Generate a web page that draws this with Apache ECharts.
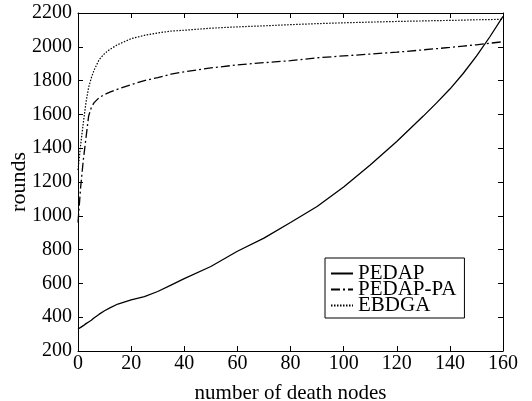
<!DOCTYPE html>
<html lang="en">
<head>
    <meta charset="UTF-8">
    <title>rounds vs death nodes</title>
    <script src="https://cdn.jsdelivr.net/npm/echarts@6/dist/echarts.min.js"></script>
    <style>
        body{ margin:0; background:#fff; }
    </style>
</head>
<body>
    <div id="main" style="width:532px;height:401px;"></div>
    <script>
        // number of death nodes
        var nodes = [0, 1, 2, 3, 4, 5, 6, 8, 10, 12, 15, 20, 25, 30, 35, 40, 50, 60, 70, 80, 90, 100, 110, 120, 130, 135, 140, 145, 150, 155, 160];
        // rounds
        var pedap   = [330, 340, 350, 362, 372, 382, 395, 418, 438, 455, 478, 502, 522, 552, 590, 628, 700, 790, 868, 960, 1055, 1170, 1300, 1440, 1590, 1668, 1750, 1842, 1945, 2058, 2180];
        var pedapPa = [960, 1170, 1330, 1460, 1590, 1640, 1668, 1700, 1718, 1732, 1750, 1776, 1800, 1818, 1838, 1852, 1875, 1893, 1906, 1918, 1935, 1946, 1957, 1968, 1982, 1989, 1996, 2004, 2012, 2021, 2030];
        var ebdga   = [1270, 1420, 1550, 1670, 1760, 1815, 1860, 1925, 1960, 1985, 2013, 2048, 2068, 2082, 2093, 2098, 2110, 2118, 2124, 2131, 2137, 2142, 2146, 2150, 2153, 2155, 2156, 2158, 2160, 2161, 2163];

        var xTicks = { min: 0, max: 160, interval: 20 };
        var yTicks = { min: 200, max: 2200, interval: 200 };

        function pairs(vals){
            return nodes.map(function(x, i){ return [x, vals[i]]; });
        }

        var font = 'Liberation Serif';
        var chart = echarts.init(document.getElementById('main'));

        var axisLine = { show: true, onZero: false, lineStyle: { color: '#000', width: 1 } };
        var tick = { show: true, inside: true, length: 5, lineStyle: { color: '#000' } };
        var plain = function(v){ return String(v); };

        chart.setOption({
            animation: false,
            grid: { left: 78, right: 29, top: 13, bottom: 50, outerBoundsMode: 'none', containLabel: false },
            legend: {
                orient: 'vertical',
                left: 325, top: 258,
                itemWidth: 22, itemHeight: 10, itemGap: -5,
                padding: [5, 8, 2, 5],
                borderColor: '#000', borderWidth: 1,
                itemStyle: { opacity: 0 },
                textStyle: { fontFamily: font, fontSize: 21, color: '#000' },
                data: ['PEDAP', 'PEDAP-PA', 'EBDGA']
            },
            xAxis: [{
                type: 'value', position: 'bottom',
                min: xTicks.min, max: xTicks.max, interval: xTicks.interval,
                name: 'number of death nodes', nameLocation: 'middle', nameGap: 32,
                nameTextStyle: { fontFamily: font, fontSize: 21, color: '#000' },
                axisLine: axisLine, axisTick: tick,
                axisLabel: { fontFamily: font, fontSize: 20, color: '#000', margin: 3, formatter: plain },
                splitLine: { show: false }
            }, {
                type: 'value', position: 'top',
                min: xTicks.min, max: xTicks.max, interval: xTicks.interval,
                axisLine: axisLine, axisTick: tick,
                axisLabel: { show: false }, splitLine: { show: false }
            }],
            yAxis: [{
                type: 'value', position: 'left',
                min: yTicks.min, max: yTicks.max, interval: yTicks.interval,
                name: 'rounds', nameLocation: 'middle', nameGap: 48, nameMoveOverlap: false,
                nameTextStyle: { fontFamily: font, fontSize: 22, color: '#000' },
                axisLine: axisLine, axisTick: tick,
                axisLabel: { fontFamily: font, fontSize: 20, color: '#000', margin: 6, formatter: plain },
                splitLine: { show: false }
            }, {
                type: 'value', position: 'right',
                min: yTicks.min, max: yTicks.max, interval: yTicks.interval,
                axisLine: axisLine, axisTick: tick,
                axisLabel: { show: false }, splitLine: { show: false }
            }],
            series: [{
                name: 'PEDAP', type: 'line', showSymbol: false, symbol: 'none',
                data: pairs(pedap),
                itemStyle: { color: '#000' },
                lineStyle: { color: '#000', width: 1.3, type: 'solid' }
            }, {
                name: 'PEDAP-PA', type: 'line', showSymbol: false, symbol: 'none',
                data: pairs(pedapPa),
                itemStyle: { color: '#000' },
                lineStyle: { color: '#000', width: 1.3, type: [9, 3, 2, 3] }
            }, {
                name: 'EBDGA', type: 'line', showSymbol: false, symbol: 'none',
                data: pairs(ebdga),
                itemStyle: { color: '#000' },
                lineStyle: { color: '#000', width: 1.2, type: [1.5, 1.5] }
            }]
        });
    </script>
</body>
</html>
